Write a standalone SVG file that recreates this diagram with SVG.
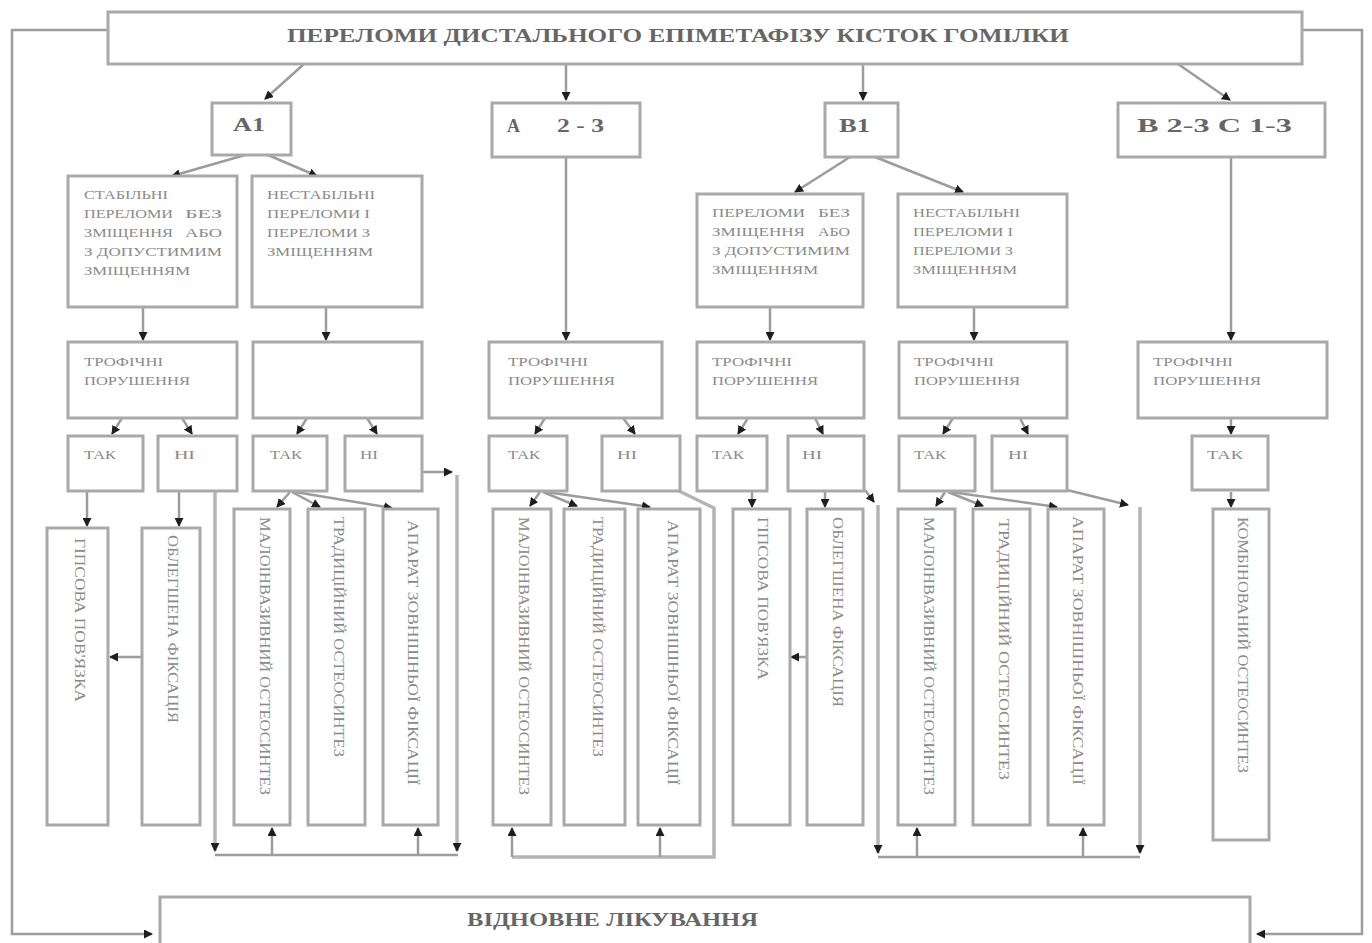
<svg xmlns="http://www.w3.org/2000/svg" width="1372" height="943" viewBox="0 0 1372 943">
<style>
.b{fill:#fff;stroke:#a9a9a9;stroke-width:3}
.c{fill:none;stroke:#9c9c9c;stroke-width:2.5}
.w{fill:none;stroke:#b4b4b4;stroke-width:3.5}
.a{marker-end:url(#ar)}
.t{font-family:"Liberation Serif","Times New Roman",serif;font-size:13px;fill:#8a8a8a}
.h{font-family:"Liberation Serif","Times New Roman",serif;font-weight:bold;fill:#666}
.v{font-family:"Liberation Serif","Times New Roman",serif;font-size:14px;fill:#8a8a8a;dominant-baseline:central}
</style>
<defs>
<marker id="ar" markerUnits="userSpaceOnUse" markerWidth="9" markerHeight="9" refX="8" refY="4.5" orient="auto">
<path d="M0,0 L9,4.5 L0,9 z" fill="#1e1e1e"/>
</marker>
</defs>
<rect width="1372" height="943" fill="#fff"/>

<g id="connectors">
<path class="c a" d="M108,30 H12 V934 H152"/>
<path class="c a" d="M1302,30 H1362 V934 H1257"/>
<path class="c a" d="M304,64 L265,99"/>
<path class="c a" d="M566,64 V100"/>
<path class="c a" d="M863,64 V100"/>
<path class="c a" d="M1178,64 L1230,100"/>
<path class="c a" d="M245,155 L172,176"/>
<path class="c a" d="M268,155 L317,176"/>
<path class="c a" d="M566,157 V340"/>
<path class="c a" d="M850,157 L795,192"/>
<path class="c a" d="M875,157 L963,192"/>
<path class="c a" d="M1231,157 V340"/>
<path class="c a" d="M143,307 V340"/>
<path class="c a" d="M326,307 V340"/>
<path class="c a" d="M770,307 V340"/>
<path class="c a" d="M974,307 V340"/>
<path class="c a" d="M122,418 L112,434"/>
<path class="c a" d="M182,418 L192,434"/>
<path class="c a" d="M307,418 L297,434"/>
<path class="c a" d="M367,418 L377,434"/>
<path class="c a" d="M545,418 L535,434"/>
<path class="c a" d="M623,418 L635,434"/>
<path class="c a" d="M748,418 L738,434"/>
<path class="c a" d="M815,418 L823,434"/>
<path class="c a" d="M953,418 L943,434"/>
<path class="c a" d="M1020,418 L1028,434"/>
<path class="c a" d="M1231,418 V434"/>
<path class="c a" d="M87,492 V526"/>
<path class="c a" d="M179,492 V526"/>
<path class="c a" d="M142,657 H110"/>
<path class="w a" d="M215,492 V851"/>
<path class="c a" d="M290,492 L277,507"/>
<path class="c a" d="M292,492 L320,507"/>
<path class="c a" d="M295,492 L392,508"/>
<path class="c a" d="M422,472 H452"/>
<path class="w a" d="M457,475 V851"/>
<path class="c" d="M215,855 H458"/>
<path class="c a" d="M272,855 V828"/>
<path class="c a" d="M418,855 V828"/>
<path class="c a" d="M540,492 L530,506"/>
<path class="c a" d="M543,492 L577,506"/>
<path class="c a" d="M546,492 L650,507"/>
<path class="w" d="M677,490 L714,508 V857 H512"/>
<path class="c a" d="M512,857 V828"/>
<path class="c a" d="M660,857 V828"/>
<path class="c a" d="M752,492 V507"/>
<path class="c a" d="M825,492 V507"/>
<path class="c a" d="M807,657 H791"/>
<path class="c a" d="M865,490 L874,502"/>
<path class="w a" d="M878,505 V853"/>
<path class="c" d="M878,857 H1140"/>
<path class="c a" d="M917,857 V828"/>
<path class="c a" d="M1083,857 V828"/>
<path class="c a" d="M945,492 L936,506"/>
<path class="c a" d="M948,492 L983,506"/>
<path class="c a" d="M951,492 L1057,507"/>
<path class="c a" d="M1067,490 L1128,505"/>
<path class="w a" d="M1140,507 V853"/>
<path class="c a" d="M1231,492 V507"/>
</g>

<g id="title"><rect class="b" x="108" y="12" width="1194" height="52"/>
<text class="h" x="287" y="42" font-size="19" fill="#555" textLength="782" lengthAdjust="spacingAndGlyphs">ПЕРЕЛОМИ ДИСТАЛЬНОГО ЕПІМЕТАФІЗУ КІСТОК ГОМІЛКИ</text></g>

<g id="rehab"><path class="b" d="M160,943 V897 H1250 V943" fill="none"/>
<text class="h" x="467" y="926" font-size="18" fill="#555" textLength="291" lengthAdjust="spacingAndGlyphs">ВІДНОВНЕ ЛІКУВАННЯ</text></g>

<g id="a1"><rect class="b" x="212" y="103" width="79" height="52"/>
<text class="h" x="233" y="131" font-size="18" textLength="32" lengthAdjust="spacingAndGlyphs">А1</text></g>
<g id="a23"><rect class="b" x="492" y="103" width="148" height="54"/>
<text class="h" font-size="18"><tspan x="507" y="132">А</tspan><tspan x="557" y="132" textLength="47" lengthAdjust="spacingAndGlyphs">2 - 3</tspan></text></g>
<g id="b1"><rect class="b" x="825" y="103" width="73" height="54"/>
<text class="h" x="839" y="132" font-size="18" textLength="31" lengthAdjust="spacingAndGlyphs">В1</text></g>
<g id="b23c13"><rect class="b" x="1118" y="103" width="207" height="54"/>
<text class="h" x="1137" y="132" font-size="18" textLength="155" lengthAdjust="spacingAndGlyphs">В 2-3 С 1-3</text></g>

<g id="a1-stable"><rect class="b" x="68" y="176" width="169" height="131"/>
<text class="t"><tspan x="84" y="199" textLength="84" lengthAdjust="spacingAndGlyphs">СТАБІЛЬНІ</tspan>
<tspan x="84" y="218" textLength="89" lengthAdjust="spacingAndGlyphs">ПЕРЕЛОМИ</tspan><tspan x="185" y="218" textLength="37" lengthAdjust="spacingAndGlyphs">БЕЗ</tspan>
<tspan x="84" y="237" textLength="89" lengthAdjust="spacingAndGlyphs">ЗМІЩЕННЯ</tspan><tspan x="185" y="237" textLength="37" lengthAdjust="spacingAndGlyphs">АБО</tspan>
<tspan x="84" y="256" textLength="138" lengthAdjust="spacingAndGlyphs">З ДОПУСТИМИМ</tspan>
<tspan x="84" y="275" textLength="106" lengthAdjust="spacingAndGlyphs">ЗМІЩЕННЯМ</tspan></text></g>
<g id="a1-unstable"><rect class="b" x="252" y="176" width="170" height="131"/>
<text class="t"><tspan x="267" y="199" textLength="108" lengthAdjust="spacingAndGlyphs">НЕСТАБІЛЬНІ</tspan>
<tspan x="267" y="218" textLength="103" lengthAdjust="spacingAndGlyphs">ПЕРЕЛОМИ І</tspan>
<tspan x="267" y="237" textLength="103" lengthAdjust="spacingAndGlyphs">ПЕРЕЛОМИ З</tspan>
<tspan x="267" y="256" textLength="106" lengthAdjust="spacingAndGlyphs">ЗМІЩЕННЯМ</tspan></text></g>
<g id="b1-stable"><rect class="b" x="697" y="194" width="166" height="113"/>
<text class="t"><tspan x="712" y="217" textLength="93" lengthAdjust="spacingAndGlyphs">ПЕРЕЛОМИ</tspan><tspan x="818" y="217" textLength="32" lengthAdjust="spacingAndGlyphs">БЕЗ</tspan>
<tspan x="712" y="236" textLength="93" lengthAdjust="spacingAndGlyphs">ЗМІЩЕННЯ</tspan><tspan x="818" y="236" textLength="32" lengthAdjust="spacingAndGlyphs">АБО</tspan>
<tspan x="712" y="255" textLength="138" lengthAdjust="spacingAndGlyphs">З ДОПУСТИМИМ</tspan>
<tspan x="712" y="274" textLength="106" lengthAdjust="spacingAndGlyphs">ЗМІЩЕННЯМ</tspan></text></g>
<g id="b1-unstable"><rect class="b" x="898" y="194" width="169" height="113"/>
<text class="t"><tspan x="913" y="217" textLength="107" lengthAdjust="spacingAndGlyphs">НЕСТАБІЛЬНІ</tspan>
<tspan x="913" y="236" textLength="100" lengthAdjust="spacingAndGlyphs">ПЕРЕЛОМИ І</tspan>
<tspan x="913" y="255" textLength="100" lengthAdjust="spacingAndGlyphs">ПЕРЕЛОМИ З</tspan>
<tspan x="913" y="274" textLength="104" lengthAdjust="spacingAndGlyphs">ЗМІЩЕННЯМ</tspan></text></g>

<g id="troph-a1-1"><rect class="b" x="68" y="342" width="169" height="76"/>
<text class="t"><tspan x="84" y="366" textLength="79" lengthAdjust="spacingAndGlyphs">ТРОФІЧНІ</tspan><tspan x="84" y="385" textLength="106" lengthAdjust="spacingAndGlyphs">ПОРУШЕННЯ</tspan></text></g>
<g id="troph-a1-2"><rect class="b" x="253" y="342" width="169" height="76"/></g>
<g id="troph-a23"><rect class="b" x="489" y="342" width="173" height="76"/>
<text class="t"><tspan x="508" y="366" textLength="80" lengthAdjust="spacingAndGlyphs">ТРОФІЧНІ</tspan><tspan x="508" y="385" textLength="107" lengthAdjust="spacingAndGlyphs">ПОРУШЕННЯ</tspan></text></g>
<g id="troph-b1-1"><rect class="b" x="697" y="342" width="167" height="76"/>
<text class="t"><tspan x="712" y="366" textLength="80" lengthAdjust="spacingAndGlyphs">ТРОФІЧНІ</tspan><tspan x="712" y="385" textLength="106" lengthAdjust="spacingAndGlyphs">ПОРУШЕННЯ</tspan></text></g>
<g id="troph-b1-2"><rect class="b" x="899" y="342" width="168" height="76"/>
<text class="t"><tspan x="914" y="366" textLength="80" lengthAdjust="spacingAndGlyphs">ТРОФІЧНІ</tspan><tspan x="914" y="385" textLength="106" lengthAdjust="spacingAndGlyphs">ПОРУШЕННЯ</tspan></text></g>
<g id="troph-b23"><rect class="b" x="1138" y="342" width="189" height="76"/>
<text class="t"><tspan x="1153" y="366" textLength="80" lengthAdjust="spacingAndGlyphs">ТРОФІЧНІ</tspan><tspan x="1153" y="385" textLength="108" lengthAdjust="spacingAndGlyphs">ПОРУШЕННЯ</tspan></text></g>

<g id="yes-a1-1"><rect class="b" x="68" y="436" width="75" height="55"/><text class="t" x="84" y="459" textLength="32" lengthAdjust="spacingAndGlyphs">ТАК</text></g>
<g id="no-a1-1"><rect class="b" x="158" y="436" width="79" height="55"/><text class="t" x="174" y="459" textLength="21" lengthAdjust="spacingAndGlyphs">НІ</text></g>
<g id="yes-a1-2"><rect class="b" x="253" y="436" width="74" height="55"/><text class="t" x="270" y="459" textLength="32" lengthAdjust="spacingAndGlyphs">ТАК</text></g>
<g id="no-a1-2"><rect class="b" x="345" y="436" width="77" height="55"/><text class="t" x="360" y="459" textLength="18" lengthAdjust="spacingAndGlyphs">НІ</text></g>
<g id="yes-a23"><rect class="b" x="489" y="436" width="78" height="55"/><text class="t" x="508" y="459" textLength="32" lengthAdjust="spacingAndGlyphs">ТАК</text></g>
<g id="no-a23"><rect class="b" x="602" y="436" width="78" height="55"/><text class="t" x="617" y="459" textLength="20" lengthAdjust="spacingAndGlyphs">НІ</text></g>
<g id="yes-b1-1"><rect class="b" x="697" y="436" width="70" height="55"/><text class="t" x="712" y="459" textLength="32" lengthAdjust="spacingAndGlyphs">ТАК</text></g>
<g id="no-b1-1"><rect class="b" x="788" y="436" width="76" height="55"/><text class="t" x="802" y="459" textLength="20" lengthAdjust="spacingAndGlyphs">НІ</text></g>
<g id="yes-b1-2"><rect class="b" x="899" y="436" width="76" height="55"/><text class="t" x="914" y="459" textLength="32" lengthAdjust="spacingAndGlyphs">ТАК</text></g>
<g id="no-b1-2"><rect class="b" x="992" y="436" width="75" height="55"/><text class="t" x="1008" y="459" textLength="20" lengthAdjust="spacingAndGlyphs">НІ</text></g>
<g id="yes-b23"><rect class="b" x="1192" y="436" width="76" height="54"/><text class="t" x="1207" y="459" textLength="36" lengthAdjust="spacingAndGlyphs">ТАК</text></g>

<g id="v1"><rect class="b" x="47" y="528" width="61" height="297"/><text class="v" transform="translate(79,538) rotate(90)" textLength="164" lengthAdjust="spacingAndGlyphs">ГІПСОВА ПОВ'ЯЗКА</text></g>
<g id="v2"><rect class="b" x="142" y="528" width="58" height="297"/><text class="v" transform="translate(172,535) rotate(90)" textLength="188" lengthAdjust="spacingAndGlyphs">ОБЛЕГШЕНА ФІКСАЦІЯ</text></g>
<g id="v3"><rect class="b" x="234" y="509" width="56" height="316"/><text class="v" transform="translate(264,517) rotate(90)" textLength="278" lengthAdjust="spacingAndGlyphs">МАЛОІНВАЗИВНИЙ ОСТЕОСИНТЕЗ</text></g>
<g id="v4"><rect class="b" x="308" y="509" width="57" height="316"/><text class="v" transform="translate(338,517) rotate(90)" textLength="240" lengthAdjust="spacingAndGlyphs">ТРАДИЦІЙНИЙ ОСТЕОСИНТЕЗ</text></g>
<g id="v5"><rect class="b" x="383" y="509" width="55" height="316"/><text class="v" transform="translate(412,520) rotate(90)" textLength="265" lengthAdjust="spacingAndGlyphs">АПАРАТ ЗОВНІШНЬОЇ ФІКСАЦІЇ</text></g>
<g id="v6"><rect class="b" x="493" y="509" width="58" height="316"/><text class="v" transform="translate(523,517) rotate(90)" textLength="278" lengthAdjust="spacingAndGlyphs">МАЛОІНВАЗИВНИЙ ОСТЕОСИНТЕЗ</text></g>
<g id="v7"><rect class="b" x="564" y="509" width="61" height="316"/><text class="v" transform="translate(597,517) rotate(90)" textLength="240" lengthAdjust="spacingAndGlyphs">ТРАДИЦІЙНИЙ ОСТЕОСИНТЕЗ</text></g>
<g id="v8"><rect class="b" x="638" y="509" width="62" height="316"/><text class="v" transform="translate(672,520) rotate(90)" textLength="265" lengthAdjust="spacingAndGlyphs">АПАРАТ ЗОВНІШНЬОЇ ФІКСАЦІЇ</text></g>
<g id="v9"><rect class="b" x="733" y="509" width="57" height="316"/><text class="v" transform="translate(762,517) rotate(90)" textLength="163" lengthAdjust="spacingAndGlyphs">ГІПСОВА ПОВ'ЯЗКА</text></g>
<g id="v10"><rect class="b" x="807" y="509" width="56" height="316"/><text class="v" transform="translate(837,517) rotate(90)" textLength="190" lengthAdjust="spacingAndGlyphs">ОБЛЕГШЕНА ФІКСАЦІЯ</text></g>
<g id="v11"><rect class="b" x="898" y="509" width="57" height="316"/><text class="v" transform="translate(928,517) rotate(90)" textLength="278" lengthAdjust="spacingAndGlyphs">МАЛОІНВАЗИВНИЙ ОСТЕОСИНТЕЗ</text></g>
<g id="v12"><rect class="b" x="973" y="509" width="57" height="316"/><text class="v" transform="translate(1003,519) rotate(90)" textLength="261" lengthAdjust="spacingAndGlyphs">ТРАДИЦІЙНИЙ ОСТЕОСИНТЕЗ</text></g>
<g id="v13"><rect class="b" x="1048" y="509" width="56" height="316"/><text class="v" transform="translate(1077,516) rotate(90)" textLength="269" lengthAdjust="spacingAndGlyphs">АПАРАТ ЗОВНІШНЬОЇ ФІКСАЦІЇ</text></g>
<g id="v14"><rect class="b" x="1213" y="509" width="56" height="331"/><text class="v" transform="translate(1242,517) rotate(90)" textLength="256" lengthAdjust="spacingAndGlyphs">КОМБІНОВАНИЙ ОСТЕОСИНТЕЗ</text></g>
</svg>
